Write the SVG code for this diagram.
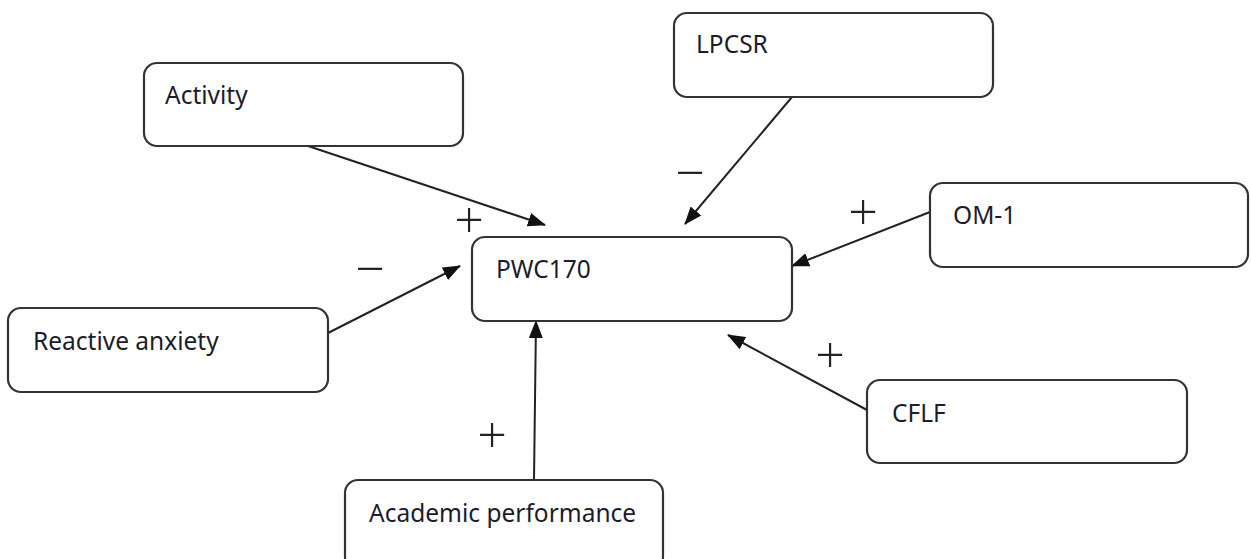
<svg xmlns="http://www.w3.org/2000/svg" width="1251" height="559" viewBox="0 0 1251 559">
<style>
.box{fill:#fff;stroke:#333;stroke-width:2.2}
.lbl{font-family:"Noto Sans","Open Sans",sans-serif;font-size:24.5px;fill:#1c1c2a}
.sign{font-family:"Open Sans","Noto Sans",sans-serif;font-weight:300;font-size:52px;fill:#222;text-anchor:middle;dominant-baseline:central}
.conn{stroke:#222;stroke-width:2;fill:none;marker-end:url(#ah)}
</style>
<defs>
<marker id="ah" markerUnits="userSpaceOnUse" markerWidth="18" markerHeight="14" refX="17" refY="7" orient="auto">
<path d="M0,0 L18,7 L0,14 Z" fill="#111"/>
</marker>
</defs>
<rect width="1251" height="559" fill="#fff"/>
<g id="connectors">
<line class="conn" x1="308" y1="146" x2="545" y2="225"/>
<line class="conn" x1="792" y1="97" x2="685" y2="224"/>
<line class="conn" x1="930" y1="212" x2="792" y2="266"/>
<line class="conn" x1="328" y1="333" x2="460" y2="266"/>
<line class="conn" x1="534" y1="480" x2="536" y2="321"/>
<line class="conn" x1="867" y1="410" x2="728" y2="335"/>
</g>
<g id="activity"><rect class="box" x="144" y="63" width="319" height="83" rx="13"/><text class="lbl" x="165" y="104">Activity</text></g>
<g id="lpcsr"><rect class="box" x="674" y="13" width="319" height="84" rx="13"/><text class="lbl" x="696" y="53">LPCSR</text></g>
<g id="pwc170"><rect class="box" x="472" y="237" width="320" height="84" rx="13"/><text class="lbl" x="496" y="278">PWC170</text></g>
<g id="reactive"><rect class="box" x="8" y="308" width="320" height="84" rx="13"/><text class="lbl" x="33" y="350">Reactive anxiety</text></g>
<g id="om1"><rect class="box" x="930" y="183" width="318" height="84" rx="13"/><text class="lbl" x="953" y="224">OM-1</text></g>
<g id="cflf"><rect class="box" x="867" y="380" width="320" height="83" rx="13"/><text class="lbl" x="892" y="422">CFLF</text></g>
<g id="academic"><rect class="box" x="345" y="480" width="318" height="90" rx="13"/><text class="lbl" x="369" y="522">Academic performance</text></g>
<g id="signs">
<text class="sign" x="469" y="217">+</text>
<text class="sign" x="690" y="170">−</text>
<text class="sign" x="370" y="266">−</text>
<text class="sign" x="863" y="209">+</text>
<text class="sign" x="830" y="352">+</text>
<text class="sign" x="492" y="432">+</text>
</g>
</svg>
